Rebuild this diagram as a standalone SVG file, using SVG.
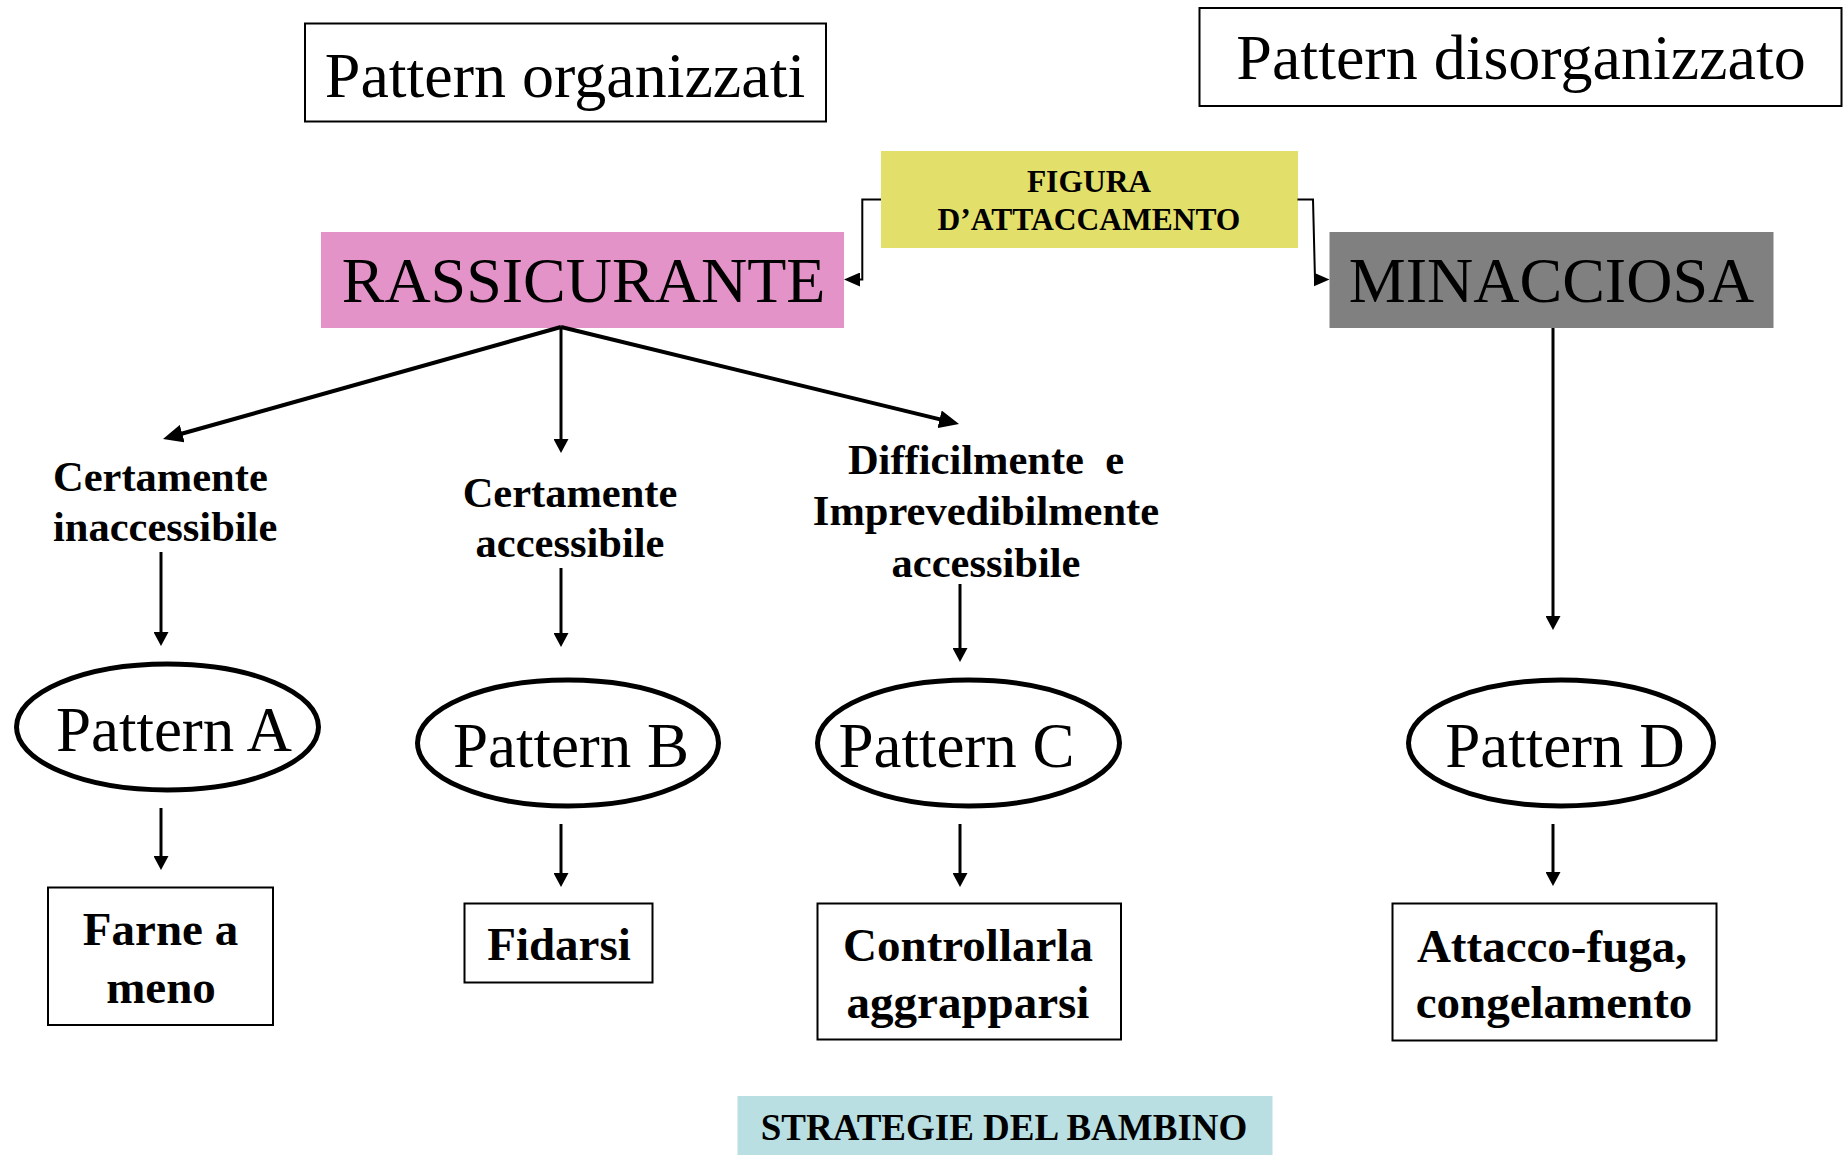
<svg xmlns="http://www.w3.org/2000/svg" width="1845" height="1155" viewBox="0 0 1845 1155">
<style>
text{font-family:"Liberation Serif","Times New Roman",serif;fill:#000}
.big{font-size:64px}
.pat{font-size:63px;text-anchor:middle}
.lbl{font-size:42.5px;font-weight:bold}
.res{font-size:47px;font-weight:bold;text-anchor:middle}
.c{text-anchor:middle}
.box{fill:#fff;stroke:#000;stroke-width:2}
.ell{fill:#fff;stroke:#000;stroke-width:5}
.ln{fill:none;stroke:#000;stroke-width:3}
.thin{fill:none;stroke:#000;stroke-width:2}
.thick{fill:none;stroke:#000;stroke-width:4}
</style>
<defs>
<marker id="ah" viewBox="0 0 14 15" refX="7" refY="7.5" markerWidth="14" markerHeight="15" markerUnits="userSpaceOnUse" orient="auto"><path d="M0,0 L14,7.5 L0,15 z" fill="#000"/></marker>
<marker id="ahB" viewBox="0 0 20 18" refX="10" refY="9" markerWidth="20" markerHeight="18" markerUnits="userSpaceOnUse" orient="auto"><path d="M0,0 L20,9 L0,18 z" fill="#000"/></marker>
<marker id="ahE" viewBox="0 0 16 14" refX="8" refY="7" markerWidth="16" markerHeight="14" markerUnits="userSpaceOnUse" orient="auto"><path d="M0,0 L16,7 L0,14 z" fill="#000"/></marker>
</defs>
<rect width="1845" height="1155" fill="#fff"/>

<g id="title-organizzati">
<rect class="box" x="305" y="23.5" width="521" height="98"/>
<text class="big c" x="565" y="97">Pattern organizzati</text>
</g>
<g id="title-disorganizzato">
<rect class="box" x="1199.5" y="8" width="642" height="98"/>
<text class="big c" x="1521" y="78.5">Pattern disorganizzato</text>
</g>

<g id="figura">
<rect x="881" y="151" width="417" height="97" fill="#E3DF6B"/>
<text class="c" x="1089" y="192" font-size="31.5" font-weight="bold">FIGURA</text>
<text class="c" x="1089" y="230" font-size="31.5" font-weight="bold">D’ATTACCAMENTO</text>
</g>

<g id="rassicurante">
<rect x="321" y="232" width="523" height="96" fill="#E493C8"/>
<text class="big c" x="583.5" y="302">RASSICURANTE</text>
</g>

<g id="minacciosa">
<rect x="1329.5" y="232" width="444" height="96" fill="#808080"/>
<text class="big c" x="1551.5" y="302">MINACCIOSA</text>
</g>

<g id="label-inaccessibile">
<text class="lbl" x="53" y="491">Certamente</text>
<text class="lbl" x="53" y="541">inaccessibile</text>
</g>
<g id="label-accessibile">
<text class="lbl c" x="570" y="507">Certamente</text>
<text class="lbl c" x="570" y="557">accessibile</text>
</g>
<g id="label-imprevedibile">
<text class="lbl c" x="986" y="474" xml:space="preserve" style="white-space:pre">Difficilmente  e</text>
<text class="lbl c" x="986" y="525">Imprevedibilmente</text>
<text class="lbl c" x="986" y="577">accessibile</text>
</g>

<g id="pattern-a">
<ellipse class="ell" cx="167.5" cy="727" rx="151" ry="63"/>
<text class="pat" x="174" y="751">Pattern A</text>
</g>
<g id="pattern-b">
<ellipse class="ell" cx="568" cy="743" rx="150.5" ry="63"/>
<text class="pat" x="571" y="767">Pattern B</text>
</g>
<g id="pattern-c">
<ellipse class="ell" cx="968.5" cy="743" rx="151" ry="63"/>
<text class="pat" x="956.5" y="767">Pattern C</text>
</g>
<g id="pattern-d">
<ellipse class="ell" cx="1561" cy="743" rx="152.5" ry="63"/>
<text class="pat" x="1565" y="767">Pattern D</text>
</g>

<g id="farne-a-meno">
<rect class="box" x="48" y="887.5" width="225" height="137.5"/>
<text class="res" x="160.5" y="945">Farne a</text>
<text class="res" x="161" y="1003">meno</text>
</g>
<g id="fidarsi">
<rect class="box" x="464.5" y="903.5" width="188" height="79"/>
<text class="res" x="559" y="960">Fidarsi</text>
</g>
<g id="controllarla">
<rect class="box" x="817.5" y="903.5" width="303.5" height="136"/>
<text class="res" x="968" y="961">Controllarla</text>
<text class="res" x="968" y="1018">aggrapparsi</text>
</g>
<g id="attacco-fuga">
<rect class="box" x="1392.5" y="903.5" width="324" height="137"/>
<text class="res" x="1552" y="962">Attacco-fuga,</text>
<text class="res" x="1554" y="1018">congelamento</text>
</g>

<g id="strategie">
<rect x="737.5" y="1096" width="535" height="59" fill="#B9DFE2"/>
<text class="c" x="1004" y="1140" font-size="37" font-weight="bold">STRATEGIE DEL BAMBINO</text>
</g>

<g id="connectors">
<path class="thin" d="M881,199.5 H862.3 V279.5 H852" marker-end="url(#ahE)"/>
<path class="thin" d="M1297.5,199.5 H1313 L1315,279.5 H1321.5" marker-end="url(#ahE)"/>
<path class="thick" d="M561,327 L172.6,436.3" marker-end="url(#ahB)"/>
<path class="ln" d="M561,327 V446" marker-end="url(#ah)"/>
<path class="thick" d="M561,327 L949.3,421.6" marker-end="url(#ahB)"/>
<path class="ln" d="M161,552 V639" marker-end="url(#ah)"/>
<path class="ln" d="M561,568 V640" marker-end="url(#ah)"/>
<path class="ln" d="M960,584 V655" marker-end="url(#ah)"/>
<path class="ln" d="M1553,328 V623" marker-end="url(#ah)"/>
<path class="ln" d="M161,808 V863" marker-end="url(#ah)"/>
<path class="ln" d="M561,824 V880" marker-end="url(#ah)"/>
<path class="ln" d="M960,824 V880" marker-end="url(#ah)"/>
<path class="ln" d="M1553,824 V879" marker-end="url(#ah)"/>
</g>
</svg>
